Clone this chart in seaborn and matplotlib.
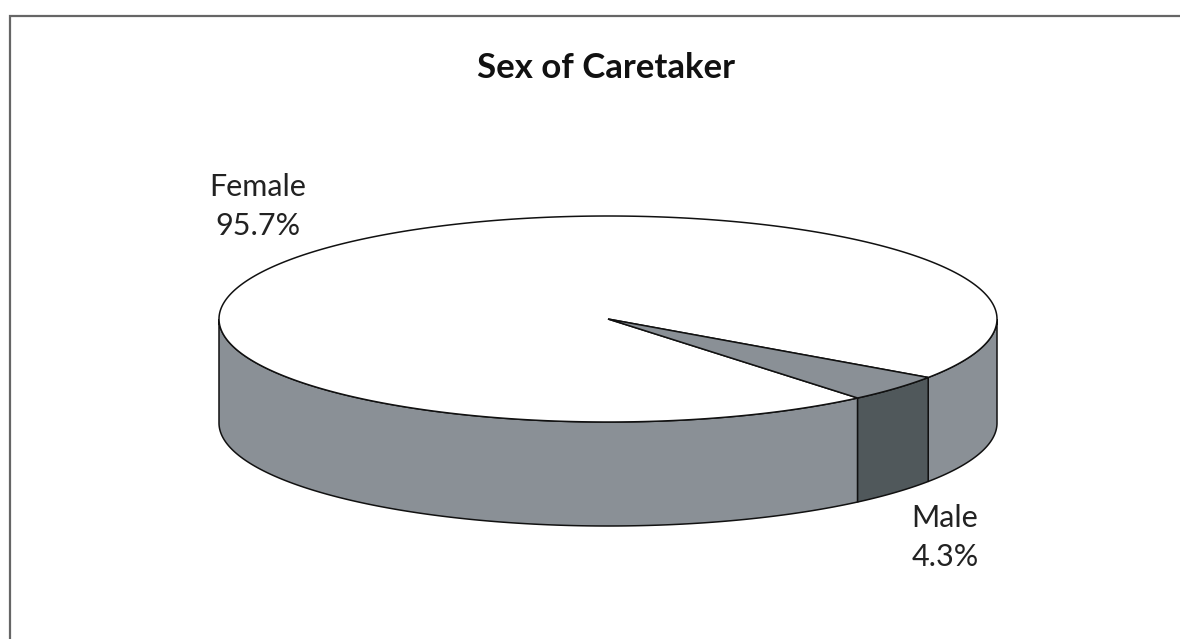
import numpy as np
import seaborn as sns
import matplotlib.pyplot as plt
from matplotlib.patches import Polygon

# data
labels = ["Female", "Male"]
shares = [95.7, 4.3]
pct_labels = ["95.7%", "4.3%"]
start_angle = -34.6

sns.set_style("white")
plt.rcParams['font.family'] = ['Lato', 'DejaVu Sans']

top_cols = ["#ffffff", "#8a9096"]
side_cols = ["#8a9096", "#50585b"]

# ellipse geometry in pixels
cx, cy, a, b, depth = 608, 319, 389, 103, 104


def ell(t):
    r = np.radians(t)
    return cx + a * np.cos(r), cy - b * np.sin(r)


fig = plt.figure(figsize=(11.8, 6.39), dpi=100)
ax = fig.add_axes([0, 0, 1, 1])
ax.set_xlim(0, 1180)
ax.set_ylim(639, 0)
ax.axis("off")

angles = start_angle + np.concatenate([[0], np.cumsum(shares)]) * 3.6

# sides first
for i in range(len(shares)):
    t1, t2 = angles[i], angles[i + 1]
    for k in range(-1, 2):
        lo = max(t1, 180 + 360 * k)
        hi = min(t2, 360 + 360 * k)
        if hi <= lo:
            continue
        t = np.linspace(lo, hi, 200)
        x, y = ell(t)
        pts = np.column_stack([np.r_[x, x[::-1]], np.r_[y, y[::-1] + depth]])
        ax.add_patch(Polygon(pts, closed=True, fc=side_cols[i], ec="#111111",
                             lw=1.1, zorder=1))

# tops
for i in range(len(shares)):
    t = np.linspace(angles[i], angles[i + 1], 400)
    x, y = ell(t)
    pts = np.column_stack([np.r_[cx, x], np.r_[cy, y]])
    ax.add_patch(Polygon(pts, closed=True, fc=top_cols[i], ec="#111111",
                         lw=1.1, zorder=2))

# labels
ax.text(258, 196, labels[0], ha="center", va="baseline", fontsize=22, color="#222222")
ax.text(258, 235, pct_labels[0], ha="center", va="baseline", fontsize=22, color="#222222")
ax.text(945, 527, labels[1], ha="center", va="baseline", fontsize=22, color="#222222")
ax.text(945, 566, pct_labels[1], ha="center", va="baseline", fontsize=22, color="#222222")

ax.text(606, 78, "Sex of Caretaker", ha="center", va="baseline", fontsize=25,
        fontweight="bold", color="#111111")

# frame
ax.plot([10, 10, 1180], [639, 16, 16], color="#666666", lw=1.6, zorder=3,
        solid_joinstyle="miter")

fig.savefig("out.png", dpi=100)
